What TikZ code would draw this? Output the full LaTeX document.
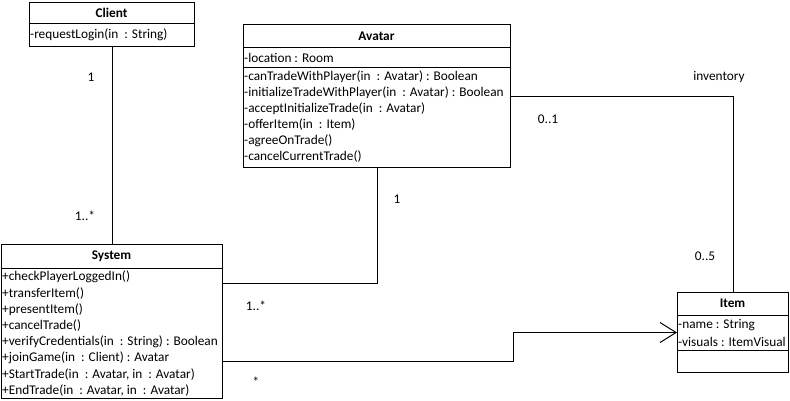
\documentclass[tikz,border=0pt]{standalone}
\usepackage{fontspec}
\setmainfont{Carlito}
\usetikzlibrary{calc,arrows.meta}
\tikzset{
  cls/.style={draw, line width=1pt, inner sep=0pt, anchor=north west},
  txt/.style={anchor=west, inner sep=0pt, font=\fontsize{13.3}{16}\selectfont},
  hdr/.style={inner sep=0pt, font=\fontsize{13.3}{16}\selectfont\bfseries},
  mult/.style={inner sep=0pt, font=\fontsize{13.3}{16}\selectfont},
  assoc/.style={line width=1pt},
  nav/.style={line width=1pt, -{Straight Barb[length=16pt,width=20pt,line width=1pt]}},
  sep/.style={line width=1pt}
}
\begin{document}
\begin{tikzpicture}[x=1pt,y=-1pt]
\useasboundingbox[fill=white] (0,0) rectangle (790,400);
% Client
\node[cls, minimum width=165pt, minimum height=44pt] (client) at (29,2) {};
\draw[sep] (29,23) -- (194,23);
\node[hdr] (clienth) at (111.5,12.5) {Client};
\node[txt] (c1) at (30,34.5) {-requestLogin(in~~: String)};
% Avatar
\node[cls, minimum width=267pt, minimum height=143pt] (avatar) at (243,24) {};
\draw[sep] (243,47.5) -- (510,47.5);
\draw[sep] (243,67.5) -- (510,67.5);
\node[hdr] (avatarh) at (376.5,36) {Avatar};
\node[txt] (a0) at (244,57.5) {-location : Room};
\node[txt] (a1) at (244,77) {-canTradeWithPlayer(in~~: Avatar) : Boolean};
\node[txt] (a2) at (244,93) {-initializeTradeWithPlayer(in~~: Avatar) : Boolean};
\node[txt] (a3) at (244,109) {-acceptInitializeTrade(in~~: Avatar)};
\node[txt] (a4) at (244,125) {-offerItem(in~~: Item)};
\node[txt] (a5) at (244,141) {-agreeOnTrade()};
\node[txt] (a6) at (244,157) {-cancelCurrentTrade()};
% System
\node[cls, minimum width=221pt, minimum height=154pt] (system) at (1,244) {};
\draw[sep] (1,268) -- (222,268);
\node[hdr] (systemh) at (111.5,256) {System};
\node[txt] (s1) at (2,277) {+checkPlayerLoggedIn()};
\node[txt] (s2) at (2,293.2) {+transferItem()};
\node[txt] (s3) at (2,309.4) {+presentItem()};
\node[txt] (s4) at (2,325.6) {+cancelTrade()};
\node[txt] (s5) at (2,341.8) {+verifyCredentials(in~~: String) : Boolean};
\node[txt] (s6) at (2,358) {+joinGame(in~~: Client) : Avatar};
\node[txt] (s7) at (2,374.2) {+StartTrade(in~~: Avatar, in~~: Avatar)};
\node[txt] (s8) at (2,390.4) {+EndTrade(in~~: Avatar, in~~: Avatar)};
% Item
\node[cls, minimum width=111pt, minimum height=80pt] (item) at (677,292) {};
\draw[sep] (677,315) -- (788,315);
\node[hdr] (itemh) at (732.5,303) {Item};
\draw[sep] (677,350) -- (788,350);
\node[txt] (i1) at (678,325) {-name : String};
\node[txt] (i2) at (678,341.5) {-visuals : ItemVisual};
% Connectors
\draw[assoc] (client.south) -- (system.north);
\draw[assoc] (avatar.south) |- ($(system.north east)+(0,39)$);
\draw[assoc] (avatar.east) -| (item.north);
\draw[nav] ($(system.north east)+(0,117)$) -| ($(item.west)+(-164,0)$) -- (item.west);
% Multiplicities
\node[mult] (m1) at (91,77) {1};
\node[mult] (m2) at (85,216) {1..*};
\node[mult] (m3) at (397,199) {1};
\node[mult] (m4) at (256,306) {1..*};
\node[mult] (m5) at (719,77) {inventory};
\node[mult] (m6) at (548,119) {0..1};
\node[mult] (m7) at (705,256) {0..5};
\node[mult] (m8) at (256,382) {*};
\end{tikzpicture}
\end{document}
